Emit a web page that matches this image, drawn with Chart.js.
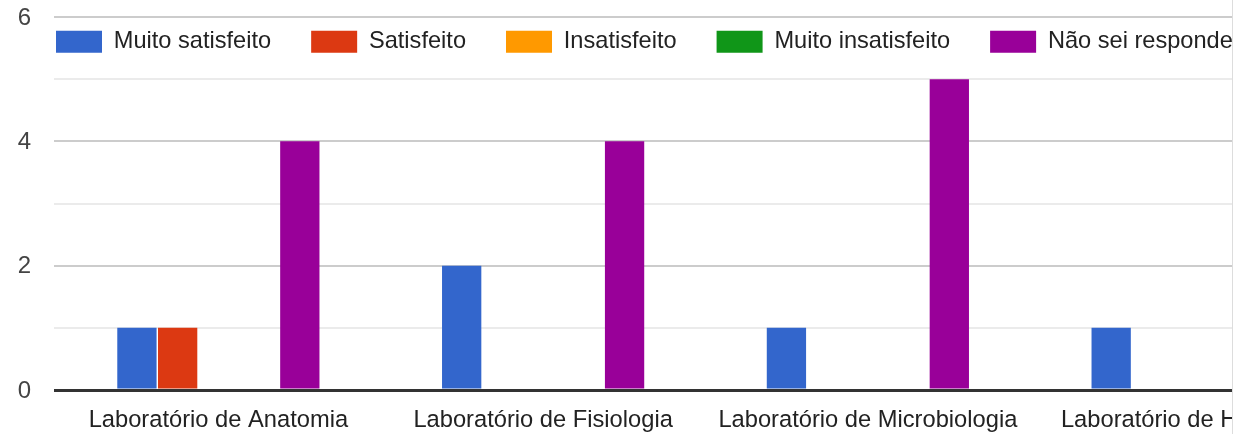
<!DOCTYPE html>
<html>
<head>
<meta charset="utf-8">
<script src="https://cdn.jsdelivr.net/npm/chart.js@4/dist/chart.umd.min.js"></script>
<style>
  body { margin: 0; background: #fff; }
  #wrap { width: 1232px; height: 434px; overflow: hidden; border-right: 1px solid #ddd; }
</style>
</head>
<body>
<div id="wrap"><canvas id="myChart" width="1360" height="434"></canvas></div>
<script>
const labs = ["Laboratório de Anatomia", "Laboratório de Fisiologia", "Laboratório de Microbiologia", "Laboratório de Histologia"];
const muitoSatisfeito = [1, 2, 1, 1];
const satisfeito = [1, 0, 0, 0];
const insatisfeito = [0, 0, 0, 0];
const muitoInsatisfeito = [0, 0, 0, 0];
const naoSei = [4, 4, 5, 4];
const yTicks = [0, 2, 4, 6];

const FONT = "'Liberation Sans', Arial, sans-serif";

// legend sits inside the plot like the google one, so it takes no room in the layout
const legendPin = {
  id: 'legendPin',
  beforeInit(chart) {
    const lg = chart.legend;
    const fit = lg.fit;
    lg.fit = function () { fit.call(this); this.height = 0; };
  },
  afterLayout(chart) {
    const lg = chart.legend;
    lg.left = 16; lg.top = -10;
    lg.right = chart.width; lg.bottom = 80;
    lg.width = lg.right - lg.left;
    lg.height = lg.bottom - lg.top;
  }
};

var ctx = document.getElementById('myChart').getContext('2d');
var myChart = new Chart(ctx, {
  type: 'bar',
  data: {
    labels: labs,
    datasets: [
      { label: "Muito satisfeito", data: muitoSatisfeito, backgroundColor: "#3366cc" },
      { label: "Satisfeito", data: satisfeito, backgroundColor: "#dc3912" },
      { label: "Insatisfeito", data: insatisfeito, backgroundColor: "#ff9900" },
      { label: "Muito insatisfeito", data: muitoInsatisfeito, backgroundColor: "#109618" },
      { label: "Não sei responder", data: naoSei, backgroundColor: "#990099" }
    ]
  },
  options: {
    responsive: false,
    animation: false,
    devicePixelRatio: 1,
    layout: { padding: { top: 17, right: 5, left: 0, bottom: 0 } },
    datasets: { bar: { barPercentage: 0.965, categoryPercentage: 0.627, borderWidth: 0 } },
    plugins: {
      tooltip: { enabled: false },
      legend: {
        position: 'top',
        align: 'start',
        labels: {
          boxWidth: 46, boxHeight: 22, padding: 40,
          color: '#222',
          font: { family: FONT, size: 23.6 }
        }
      }
    },
    scales: {
      x: {
        grid: { display: false, drawTicks: false },
        border: { display: false },
        ticks: { color: '#222', padding: 16, maxRotation: 0, autoSkip: false, font: { family: FONT, size: 23.7 } },
        afterFit(s) { s.height = 44; s.paddingLeft = 0; s.paddingRight = 0; }
      },
      y: {
        min: 0, max: 6,
        grid: {
          drawTicks: true, tickLength: 2,
          color: (c) => c.tick.value === 0 ? '#333' : (c.tick.value % 2 === 0 ? '#cccccc' : '#ebebeb'),
          lineWidth: (c) => c.tick.value === 0 ? 3 : 2
        },
        border: { display: false },
        ticks: {
          stepSize: 1, padding: 23, color: '#444', labelOffset: 1,
          font: { family: FONT, size: 24 },
          callback: (v) => yTicks.includes(v) ? String(v) : ''
        },
        afterFit(s) { s.width = 56; s.paddingTop = 0; s.paddingBottom = 0; }
      }
    }
  },
  plugins: [legendPin]
});
</script>
</body>
</html>
